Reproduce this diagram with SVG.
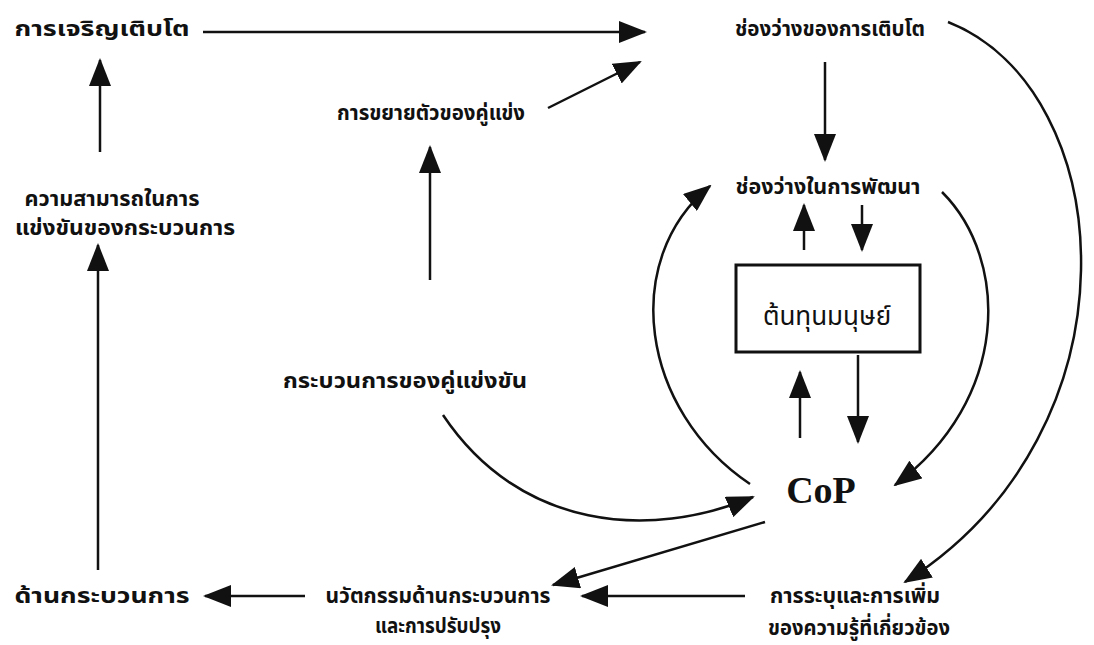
<svg xmlns="http://www.w3.org/2000/svg" width="1094" height="645" viewBox="0 0 1094 645">
<style>
.t{font-family:"Noto Sans Thai","Noto Sans","DejaVu Sans",sans-serif;font-size:21px;font-weight:bold;fill:#111;text-anchor:middle}
.big{font-size:26px;font-weight:normal}
.cop{font-family:"Liberation Serif","Times New Roman",serif;font-size:38px;font-weight:bold;fill:#111;text-anchor:middle}
.c{fill:none;stroke:#111;stroke-width:2.5;marker-end:url(#ah)}
</style>
<defs>
<marker id="ah" viewBox="0 0 28 22" refX="26" refY="11" markerWidth="28" markerHeight="22" markerUnits="userSpaceOnUse" orient="auto">
<path d="M0,0 L28,11 L0,22 z" fill="#111"/>
</marker>
</defs>
<rect width="1094" height="645" fill="#fff"/>
<g id="n-growth"><text class="t" x="102" y="36" textLength="175" lengthAdjust="spacingAndGlyphs">การเจริญเติบโต</text></g>
<g id="n-growth-gap"><text class="t" x="830" y="36" textLength="190" lengthAdjust="spacingAndGlyphs">ช่องว่างของการเติบโต</text></g>
<g id="n-competitor-expansion"><text class="t" x="431" y="120" textLength="188" lengthAdjust="spacingAndGlyphs">การขยายตัวของคู่แข่ง</text></g>
<g id="n-capability"><text class="t" x="112" y="206" textLength="175" lengthAdjust="spacingAndGlyphs">ความสามารถในการ</text><text class="t" x="125" y="235" textLength="220" lengthAdjust="spacingAndGlyphs">แข่งขันของกระบวนการ</text></g>
<g id="n-dev-gap"><text class="t" x="828" y="194" textLength="185" lengthAdjust="spacingAndGlyphs">ช่องว่างในการพัฒนา</text></g>
<g id="n-human-cost"><rect x="736" y="265" width="184" height="87" fill="none" stroke="#111" stroke-width="3"/><text class="t big" x="827" y="325">ต้นทุนมนุษย์</text></g>
<g id="n-competitor-process"><text class="t" x="405" y="388" textLength="244" lengthAdjust="spacingAndGlyphs">กระบวนการของคู่แข่งขัน</text></g>
<g id="n-cop"><text class="cop" x="821" y="503">CoP</text></g>
<g id="n-process"><text class="t" x="102" y="603" textLength="175" lengthAdjust="spacingAndGlyphs">ด้านกระบวนการ</text></g>
<g id="n-innovation"><text class="t" x="438" y="603" textLength="225" lengthAdjust="spacingAndGlyphs">นวัตกรรมด้านกระบวนการ</text><text class="t" x="438" y="633" textLength="126" lengthAdjust="spacingAndGlyphs">และการปรับปรุง</text></g>
<g id="n-knowledge"><text class="t" x="855" y="603" textLength="170" lengthAdjust="spacingAndGlyphs">การระบุและการเพิ่ม</text><text class="t" x="859" y="635" textLength="182" lengthAdjust="spacingAndGlyphs">ของความรู้ที่เกี่ยวข้อง</text></g>
<g id="connectors">
<path class="c" d="M203,32 L645,32"/>
<path class="c" d="M100,152 L100,60"/>
<path class="c" d="M98,570 L98,245"/>
<path class="c" d="M430,280 L430,147"/>
<path class="c" d="M548,108 L640,62"/>
<path class="c" d="M825,62 L825,160"/>
<path class="c" d="M804,250 L804,205"/>
<path class="c" d="M862,205 L862,250"/>
<path class="c" d="M800,438 L800,372"/>
<path class="c" d="M858,355 L858,442"/>
<path class="c" d="M443,415 C520,530 650,540 753,497"/>
<path class="c" d="M750,484 C640,410 620,260 710,186"/>
<path class="c" d="M942,192 C1010,260 1010,400 895,485"/>
<path class="c" d="M948,22 C1120,90 1145,430 905,582"/>
<path class="c" d="M765,522 L553,585"/>
<path class="c" d="M745,596 L582,596"/>
<path class="c" d="M305,596 L205,596"/>
</g>
</svg>
